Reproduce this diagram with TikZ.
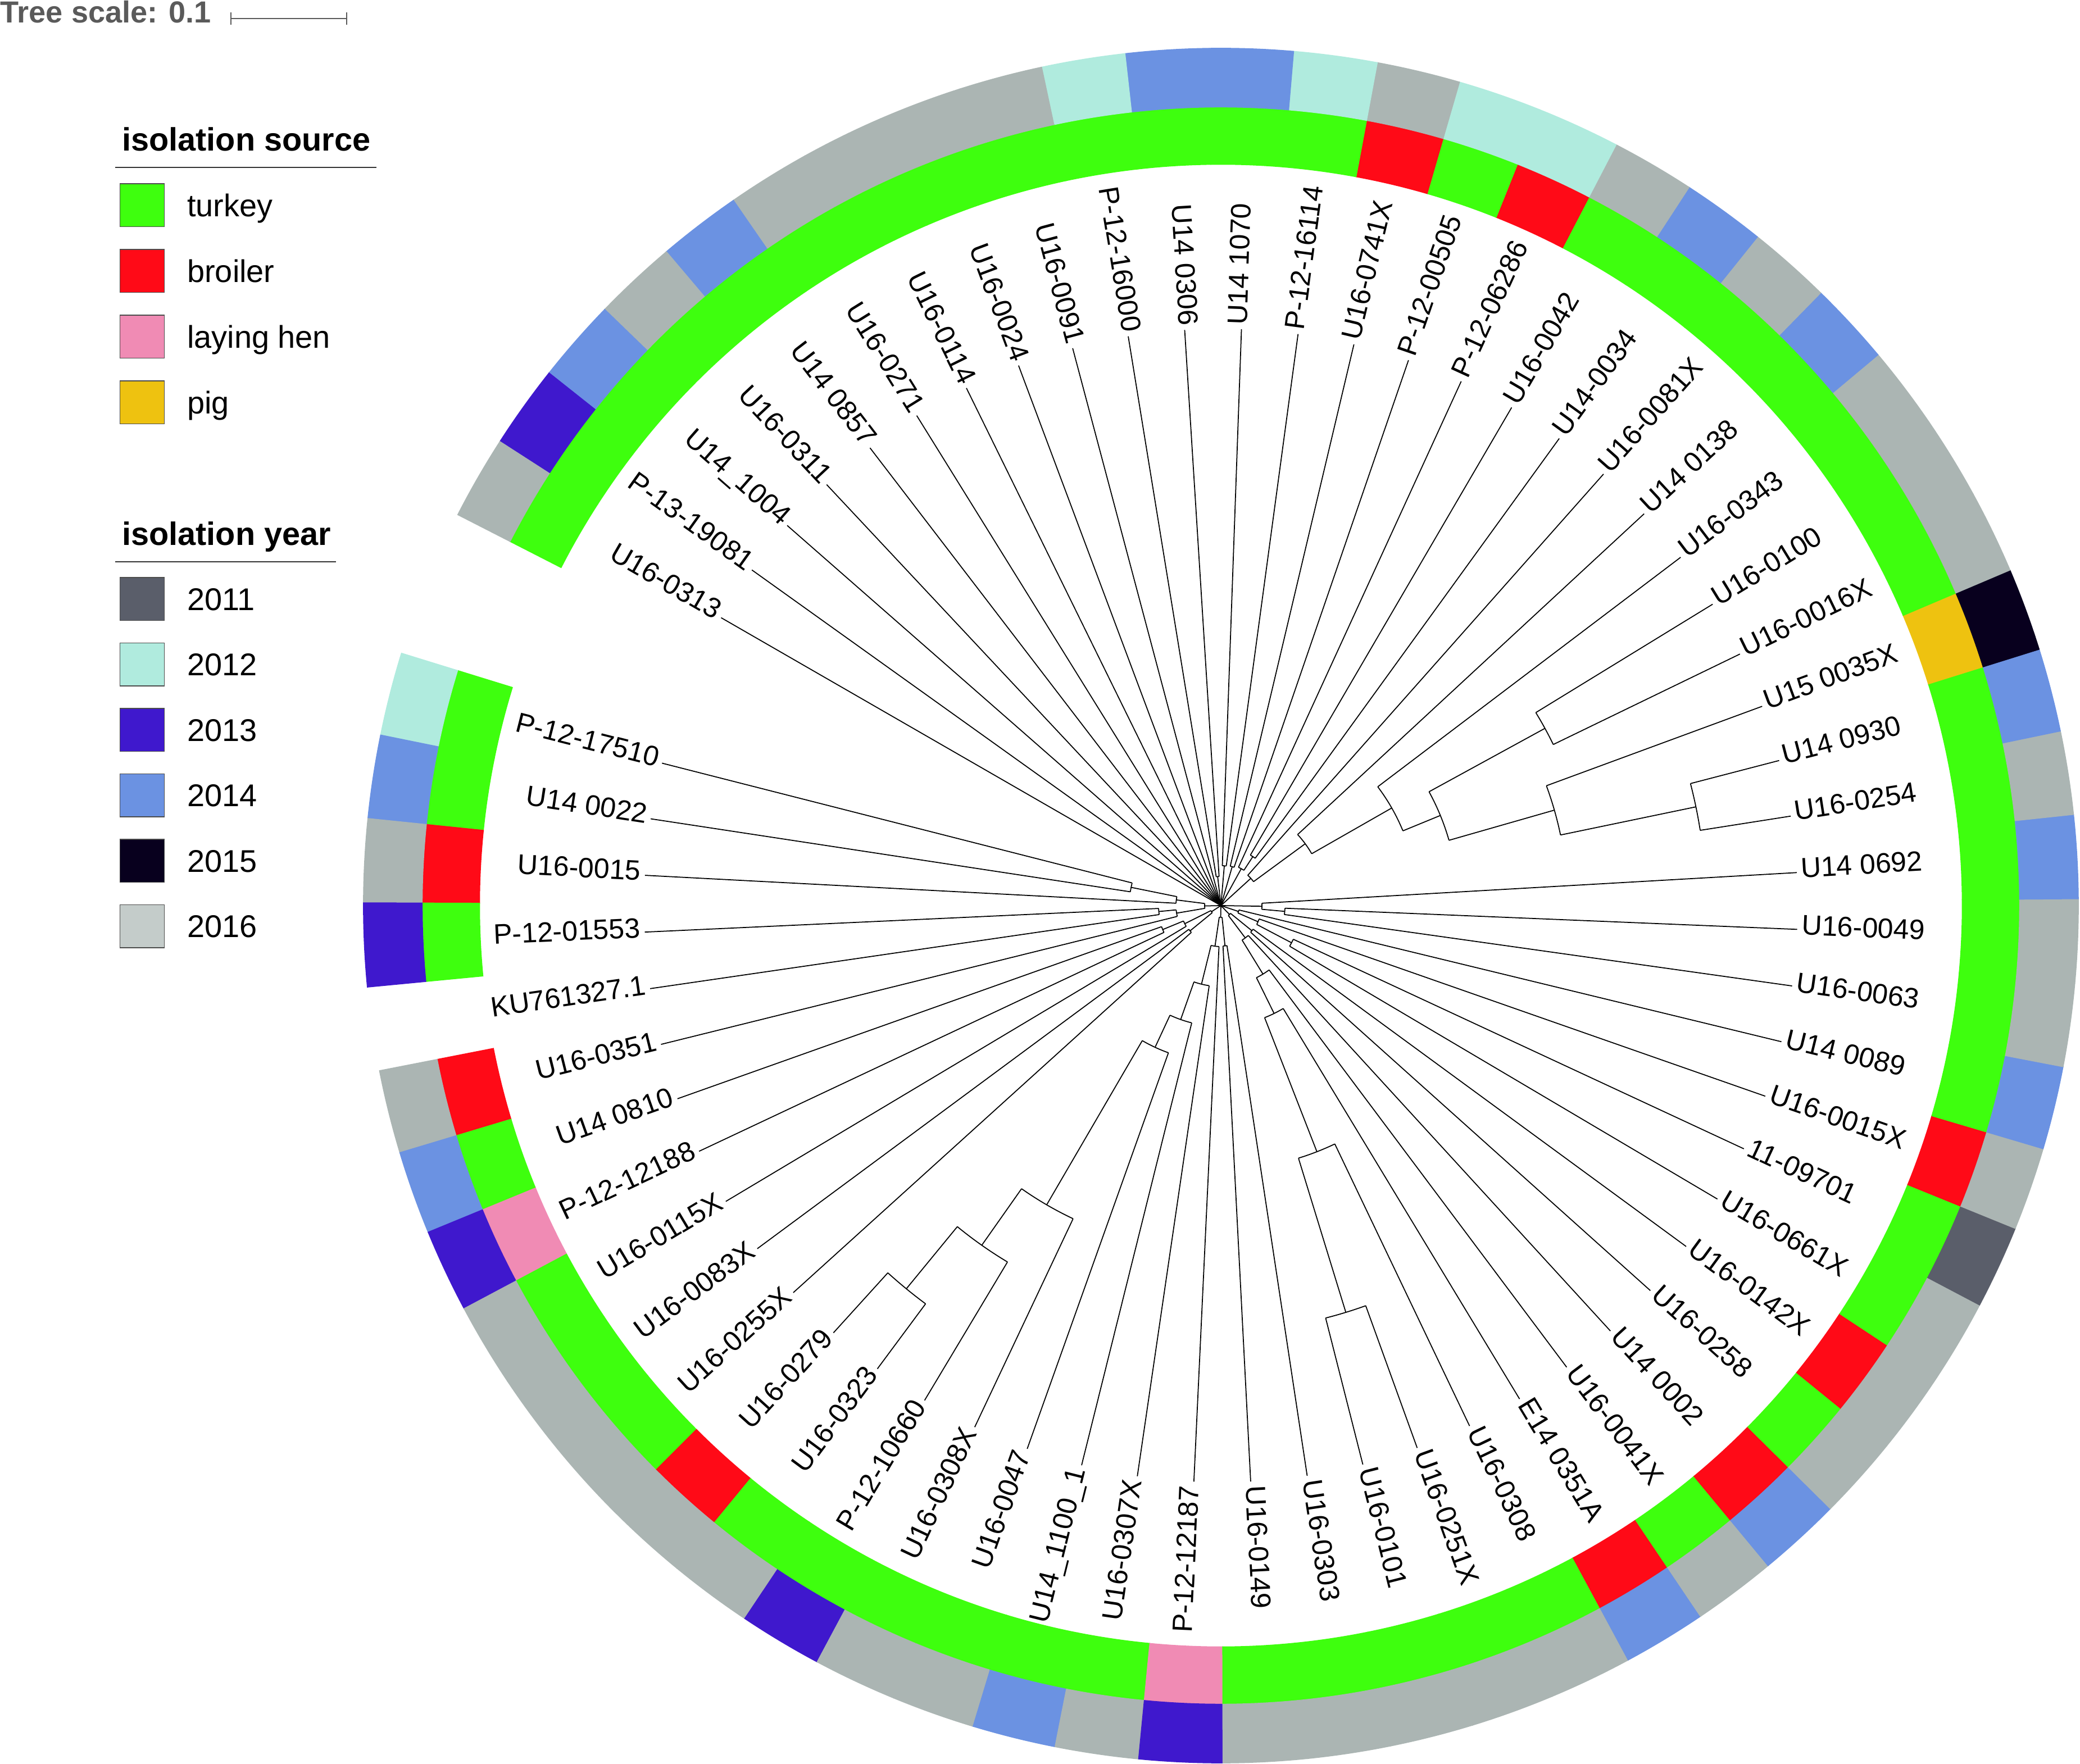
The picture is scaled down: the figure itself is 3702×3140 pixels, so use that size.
\documentclass[tikz,border=0pt]{standalone}
\usepackage{fontspec}
\setmainfont{Liberation Sans}
\definecolor{turkey}{RGB}{62,255,14}
\definecolor{broiler}{RGB}{255,10,23}
\definecolor{hen}{RGB}{240,139,180}
\definecolor{pig}{RGB}{238,194,16}
\definecolor{y11}{RGB}{90,94,106}
\definecolor{y12}{RGB}{176,235,222}
\definecolor{y13}{RGB}{63,24,205}
\definecolor{y14}{RGB}{107,146,226}
\definecolor{y15}{RGB}{8,0,30}
\definecolor{y16}{RGB}{171,181,179}
\definecolor{y16key}{RGB}{196,204,202}
\definecolor{scalegray}{RGB}{90,90,90}

\begin{document}
\begin{tikzpicture}[x=0.01cm, y=0.01cm]
\tikzstyle{every node}=[font=\fontsize{14.2}{17}\selectfont]
\tikzset{
  branch/.style={line width=0.5pt},
  lbl/.style={inner xsep=2pt, inner ysep=0pt},
  keybox/.style={draw=black!70, line width=0.4pt, minimum width=22.5pt, minimum height=21.8pt, inner sep=0pt},
  keytext/.style={font=\fontsize{15.9}{18}\selectfont, inner sep=0pt, anchor=base west},
  keytitle/.style={font=\bfseries\fontsize{16.4}{19}\selectfont, inner sep=0pt, anchor=base west},
  rule/.style={draw=black!80, line width=0.5pt}
}
\useasboundingbox (-2173,-1528) rectangle (1529,1612);

% tree scale
\node[font=\bfseries\fontsize{15.4}{18}\selectfont, text=scalegray, inner sep=0pt, anchor=base west] (treescale) at (-2173,1571) {Tree scale: 0.1};
\draw[scalegray, line width=0.5pt] (-1762,1579) -- (-1556,1579);
\draw[scalegray, line width=0.5pt] (-1762,1568) -- (-1762,1590);
\draw[scalegray, line width=0.5pt] (-1556,1568) -- (-1556,1590);

% legend: isolation source
\node[keytitle] (tsource) at (-1956.5,1343.2) {isolation source};
\draw[rule] (-1967.6,1313.6) -- (-1503.4,1313.6);
\foreach \i/\col/\txt in {0/turkey/turkey, 1/broiler/broiler, 2/hen/laying hen, 3/pig/pig} {
  \pgfmathsetmacro\yc{1246.7-117*\i}
  \node[keybox, fill=\col] (ks\i) at (-1920.1,\yc) {};
  \node[keytext] (ts\i) at (-1840.4,\yc-20) {\txt};
}

% legend: isolation year
\node[keytitle] (tyear) at (-1956.5,641.2) {isolation year};
\draw[rule] (-1967.6,611.6) -- (-1574.8,611.6);
\foreach \i/\col/\txt in {0/y11/2011, 1/y12/2012, 2/y13/2013, 3/y14/2014, 4/y15/2015, 5/y16key/2016} {
  \pgfmathsetmacro\yc{545.7-116.5*\i}
  \node[keybox, fill=\col] (ky\i) at (-1920.1,\yc) {};
  \node[keytext] (ty\i) at (-1840.4,\yc-20) {\txt};
}

% leaves, labels and rings (radii in pt: 1 px = 0.28453pt)
\foreach \k/\name/\src/\yr/\rp in {
  1/P-12-17510/turkey/y12/163, 2/U14 0022/turkey/y14/163, 3/U16-0015/broiler/y16/80,
  4/P-12-01553/turkey/y13/111, 5/KU761327.1/none/none/111, 6/U16-0351/broiler/y16/80,
  7/U14 0810/turkey/y14/112, 8/P-12-12188/hen/y13/112, 9/U16-0115X/turkey/y16/72,
  10/U16-0083X/turkey/y16/71, 11/U16-0255X/turkey/y16/71, 12/U16-0279/broiler/y16/882,
  13/U16-0323/turkey/y16/882, 14/P-12-10660/turkey/y13/739, 15/U16-0308X/turkey/y16/616,
  16/U16-0047/turkey/y16/278, 17/U14\_1100\_1/turkey/y14/215, 18/U16-0307X/turkey/y16/144,
  19/P-12-12187/hen/y13/73, 20/U16-0149/turkey/y16/72, 21/U16-0303/turkey/y16/72,
  22/U16-0101/turkey/y16/757, 23/U16-0251X/turkey/y16/757, 24/U16-0308/turkey/y16/470,
  25/E14 0351A/broiler/y14/214, 26/U16-0041X/turkey/y16/143, 27/U14 0002/broiler/y14/72,
  28/U16-0258/turkey/y16/71, 29/U16-0142X/broiler/y16/71, 30/U16-0661X/turkey/y16/142,
  31/11-09701/turkey/y11/142, 32/U16-0015X/broiler/y16/72, 33/U14 0089/turkey/y14/33,
  34/U16-0063/turkey/y16/114, 35/U16-0049/turkey/y16/114, 36/U14 0692/turkey/y14/73,
  37/U16-0254/turkey/y16/863, 38/U14 0930/turkey/y14/863, 39/U15 0035X/pig/y15/617,
  40/U16-0016X/turkey/y16/657, 41/U16-0100/turkey/y16/657, 42/U16-0343/turkey/y16/350,
  43/U14 0138/turkey/y14/186, 44/U16-0081X/turkey/y16/72, 45/U14-0034/turkey/y14/104,
  46/U16-0042/turkey/y16/104, 47/P-12-06286/broiler/y12/75, 48/P-12-00505/turkey/y12/72,
  49/U16-0741X/broiler/y16/72, 50/P-12-16114/turkey/y12/71, 51/U14 1070/turkey/y14/71,
  52/U14 0306/turkey/y14/52, 53/P-12-16000/turkey/y12/52, 54/U16-0091/turkey/y16/0,
  55/U16-0024/turkey/y16/0, 56/U16-0114/turkey/y16/0, 57/U16-0271/turkey/y16/0,
  58/U14 0857/turkey/y14/0, 59/U16-0311/turkey/y16/0, 60/U14\_1004/turkey/y14/0,
  61/P-13-19081/turkey/y13/0, 62/U16-0313/turkey/y16/0} {
  \pgfmathsetmacro\t{165.7+(\k-1)*5.645161}
  \pgfmathsetmacro\tm{mod(\t,360)}
  \pgfmathsetmacro\ta{\t-2.85}
  \pgfmathsetmacro\tb{\t+2.85}
  \pgfmathsetmacro\rpp{\rp*0.28453}
  \pgfmathtruncatemacro\flip{(\tm>90)&&(\tm<270)}
  \fill[fill=\src] (\ta:375.01pt) arc[start angle=\ta, end angle=\tb, radius=375.01pt]
    -- (\tb:404.32pt) arc[start angle=\tb, end angle=\ta, radius=404.32pt] -- cycle;
  \fill[fill=\yr] (\ta:404.03pt) arc[start angle=\ta, end angle=\tb, radius=404.03pt]
    -- (\tb:434.19pt) arc[start angle=\tb, end angle=\ta, radius=434.19pt] -- cycle;
  \ifnum\flip=1
    \node[lbl, anchor=mid east, rotate=\tm+180] (l\k) at (\tm:291.93pt) {\name};
    \draw[branch] (\tm:\rpp pt) -- (l\k.mid east);
  \else
    \node[lbl, anchor=mid west, rotate=\tm] (l\k) at (\tm:291.93pt) {\name};
    \draw[branch] (\tm:\rpp pt) -- (l\k.mid west);
  \fi
}

% internal nodes: first angle / last angle / radius / parent radius (px)
\foreach \a/\b/\r/\p in {
  165.70/171.35/163/80, 168.525/176.99/80/29, 182.64/188.28/111/80,
  185.46/193.93/80/29, 172.76/189.695/29/0,
  199.57/205.22/112/72, 202.395/210.86/72/20, 216.51/222.15/71/20, 206.63/219.33/20/0,
  227.80/233.44/882/739, 230.62/239.09/739/616, 234.855/244.73/616/278,
  239.79/250.38/278/215, 245.085/256.02/215/144, 250.55/261.67/144/73,
  256.11/267.31/73/21, 272.96/278.60/72/21, 261.71/275.78/21/0,
  284.25/289.89/757/470, 287.07/295.54/470/214, 291.305/301.18/214/143,
  296.24/306.83/143/72, 301.535/312.47/72/22,
  318.12/323.76/71/22, 307.00/320.94/22/0,
  329.41/335.05/142/72, 332.23/340.70/72/33, 336.465/346.34/33/0,
  351.99/357.63/114/73, 354.81/363.28/73/0,
  368.92/374.57/863/617, 371.745/380.21/617/422, 385.86/391.50/657/422,
  375.98/388.68/422/350, 382.33/397.15/350/186, 389.74/402.79/186/72,
  396.265/408.44/72/0,
  414.08/419.73/104/75, 416.905/425.37/75/0,
  431.02/436.66/72/0, 442.31/447.95/71/0, 453.60/459.24/52/0} {
  \pgfmathsetmacro\m{(\a+\b)/2}
  \pgfmathsetmacro\rr{\r*0.28453}
  \pgfmathsetmacro\pp{\p*0.28453}
  \draw[branch] (\a:\rr pt) arc[start angle=\a, end angle=\b, radius=\rr pt];
  \draw[branch] (\m:\pp pt) -- (\m:\rr pt);
}
\end{tikzpicture}
\end{document}
